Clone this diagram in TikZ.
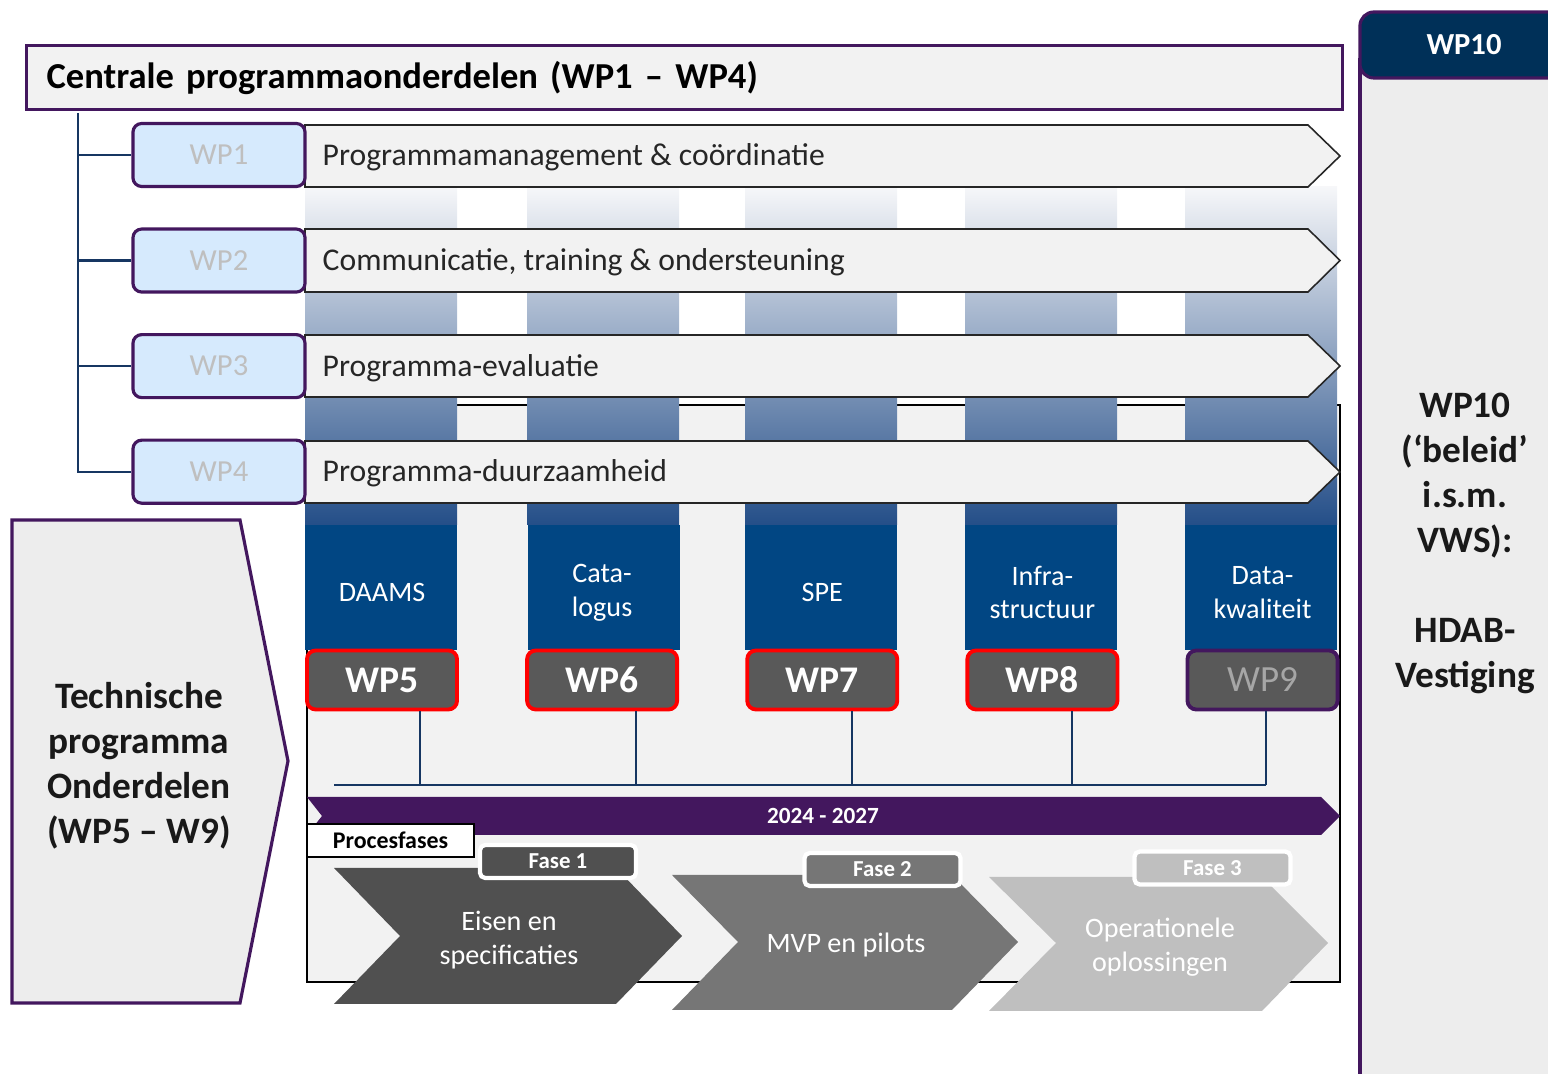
\documentclass[tikz,border=0pt]{standalone}
\usepackage{fontspec}
\setmainfont{Carlito}
\usepackage{tikz}
\usetikzlibrary{shapes.geometric, arrows}
\definecolor{purp}{RGB}{67,23,94}
\definecolor{navy}{RGB}{0,48,88}
\definecolor{linkblue}{RGB}{22,54,98}
\definecolor{colblue}{RGB}{1,70,131}
\definecolor{coltop}{RGB}{246,247,249}
\definecolor{colmid}{RGB}{172,178,200}
\definecolor{colbot}{RGB}{36,78,136}
\definecolor{paleblue}{RGB}{214,234,253}
\definecolor{lightbg}{RGB}{242,242,242}
\definecolor{panel}{RGB}{237,237,237}
\definecolor{boxgray}{RGB}{89,89,89}
\definecolor{ph1}{RGB}{80,80,80}
\definecolor{ph2}{RGB}{118,118,118}
\definecolor{ph3}{RGB}{191,191,191}
\definecolor{txtgray}{RGB}{191,191,191}
\definecolor{wp9gray}{RGB}{166,166,166}
\definecolor{darktxt}{RGB}{38,38,38}
\tikzstyle{banner} = [rectangle, draw=purp, line width=0.9pt, fill=lightbg, inner xsep=0.2cm, text width=12.75cm, minimum height=0.64cm, align=left, font=\bfseries\fontsize{10.4}{12}\selectfont]
\tikzstyle{wpsmall} = [rectangle, rounded corners=2.5pt, draw=purp, line width=0.9pt, fill=paleblue, text=txtgray, minimum width=1.72cm, minimum height=0.63cm, inner sep=0pt, font=\fontsize{8.7}{10}\selectfont]
\tikzstyle{bar} = [draw=darktxt, line width=0.45pt, fill=lightbg]
\tikzstyle{bartext} = [anchor=west, inner sep=0pt, text=darktxt, font=\fontsize{9}{10}\selectfont]
\tikzstyle{coltext} = [text=white, align=center, font=\fontsize{8}{9.6}\selectfont]
\tikzstyle{wpbig} = [rectangle, rounded corners=2.5pt, draw=red, line width=1.1pt, fill=boxgray, text=white, minimum width=1.5cm, minimum height=0.59cm, inner sep=0pt, font=\bfseries\fontsize{10.7}{12}\selectfont]
\tikzstyle{link} = [draw=linkblue, line width=0.6pt]
\tikzstyle{phasetext} = [text=white, align=center, font=\fontsize{8}{9.6}\selectfont]
\tikzstyle{faselabel} = [rectangle, rounded corners=1.5pt, draw=white, line width=1.2pt, text=white, minimum width=1.56cm, minimum height=0.33cm, inner sep=0pt, font=\bfseries\fontsize{6.5}{7.5}\selectfont]
\tikzstyle{sidepanel} = [draw=purp, line width=0.9pt, fill=panel]
\tikzstyle{sidetext} = [align=center, text=black!90, font=\bfseries\fontsize{10.6}{12.8}\selectfont]
\begin{document}
\begin{tikzpicture}[x=0.01cm, y=-0.01cm, node distance=2.2cm]
	\useasboundingbox (0,0) rectangle (1548,1074);
	\clip (0,0) rectangle (1548,1074);

		% Draw the background and the columns
		\draw[fill=lightbg, draw=black, line width=0.6pt] (307,405) rectangle (1340,982);
		\shade[top color=coltop, middle color=colmid, bottom color=colbot] (305,187) rectangle (457,525);
		\shade[top color=coltop, middle color=colmid, bottom color=colbot] (527,187) rectangle (679,525);
		\shade[top color=coltop, middle color=colmid, bottom color=colbot] (745,187) rectangle (897,525);
		\shade[top color=coltop, middle color=colmid, bottom color=colbot] (965,187) rectangle (1117,525);
		\shade[top color=coltop, middle color=colmid, bottom color=colbot] (1185,187) rectangle (1337,525);
		\fill[colblue] (305,525) rectangle (457,650);
		\fill[colblue] (528,525) rectangle (680,650);
		\fill[colblue] (745,525) rectangle (897,650);
		\fill[colblue] (965,525) rectangle (1117,650);
		\fill[colblue] (1185,525) rectangle (1337,650);

		% Draw the arrows WP1 - WP4
		\draw[bar] (305,125) -- (1308,125) -- (1340,156) -- (1308,187) -- (305,187) -- cycle;
		\draw[bar] (305,229) -- (1308,229) -- (1340,260.5) -- (1308,292) -- (305,292) -- cycle;
		\draw[bar] (305,335) -- (1308,335) -- (1340,366) -- (1308,397) -- (305,397) -- cycle;
		\draw[bar] (305,441) -- (1308,441) -- (1340,472) -- (1308,503) -- (305,503) -- cycle;
		\node (pm) [bartext] at (322,157) {Programmamanagement \& coördinatie};
		\node (comm) [bartext] at (322,262) {Communicatie, training \& ondersteuning};
		\node (eval) [bartext] at (322,368) {Programma-evaluatie};
		\node (duur) [bartext] at (322,473) {Programma-duurzaamheid};

		% Draw the nodes
		\node (title) [banner, anchor=north west] at (25,44) {Centrale programmaonderdelen (WP1 – WP4)};
		\node (wp1) [wpsmall] at (219,155) {WP1};
		\node (wp2) [wpsmall, below of=wp1, yshift=1.145cm] {WP2};
		\node (wp3) [wpsmall, below of=wp2, yshift=1.145cm] {WP3};
		\node (wp4) [wpsmall, below of=wp3, yshift=1.145cm] {WP4};
		\node (wp5) [wpbig] at (382,680) {WP5};
		\node (wp6) [wpbig, right of=wp5] {WP6};
		\node (wp7) [wpbig, right of=wp6] {WP7};
		\node (wp8) [wpbig, right of=wp7] {WP8};
		\node (wp9) [wpbig, right of=wp8, draw=purp, text=wp9gray, font=\fontsize{10.5}{12}\selectfont] {WP9};
		\node (daams) [coltext, above of=wp5, yshift=-1.325cm] {DAAMS};
		\node (catalogus) [coltext, above of=wp6, yshift=-1.325cm] {Cata-\\logus};
		\node (spe) [coltext, above of=wp7, yshift=-1.325cm] {SPE};
		\node (infra) [coltext, above of=wp8, yshift=-1.325cm] {Infra-\\structuur};
		\node (dataq) [coltext, above of=wp9, yshift=-1.325cm] {Data-\\kwaliteit};

		% Draw the lines
		\coordinate (trunk) at (78,113);
		\draw[link] (trunk) |- (wp4.west);
		\draw[link] (trunk |- wp1.west) -- (wp1.west);
		\draw[link] (trunk |- wp2.west) -- (wp2.west);
		\draw[link] (trunk |- wp3.west) -- (wp3.west);
		\coordinate (busL) at (334,785);
		\coordinate (b5) at (420,785);
		\coordinate (b6) at (636,785);
		\coordinate (b7) at (852,785);
		\coordinate (b8) at (1072,785);
		\coordinate (b9) at (1266,785);
		\draw[link] (busL) -- (b9);
		\draw[link] (b5 |- wp5.south) -- (b5);
		\draw[link] (b6 |- wp6.south) -- (b6);
		\draw[link] (b7 |- wp7.south) -- (b7);
		\draw[link] (b8 |- wp8.south) -- (b8);
		\draw[link] (b9 |- wp9.south) -- (b9);

		% Timeline and phases
		\fill[purp] (307,797) -- (1321,797) -- (1340,816) -- (1321,835) -- (307,835) -- (322,816) -- cycle;
		\node (years) [text=white, font=\bfseries\fontsize{6.6}{8}\selectfont] at (823,816) {2024 - 2027};
		\node (procesfases) [draw=black, fill=white, line width=0.6pt, minimum width=1.67cm, minimum height=0.33cm, inner sep=0pt, font=\bfseries\fontsize{6.8}{8}\selectfont] at (390.5,840.5) {Procesfases};
		\fill[ph1] (334,868) -- (616,868) -- (682,936) -- (616,1004) -- (334,1004) -- (400,936) -- cycle;
		\fill[ph2] (672,875) -- (952,875) -- (1018,942) -- (952,1010) -- (672,1010) -- (738,942) -- cycle;
		\fill[ph3] (989,877) -- (1262,877) -- (1328,943) -- (1262,1011) -- (989,1011) -- (1056,943) -- cycle;
		\node (eisen) [phasetext] at (509,940) {Eisen en\\specificaties};
		\node (mvp) [phasetext] at (846,945) {MVP en pilots};
		\node (oplos) [phasetext] at (1160,947) {Operationele\\oplossingen};
		\node (fase1) [faselabel, fill=ph1] at (558,861.5) {Fase 1};
		\node (fase2) [faselabel, fill=ph2] at (882.5,869.5) {Fase 2};
		\node (fase3) [faselabel, fill=ph3] at (1212.5,868) {Fase 3};

		% Side panels
		\draw[sidepanel] (12,520) -- (240,520) -- (288,761) -- (240,1003) -- (12,1003) -- cycle;
		\node (technisch) [sidetext] at (139,766) {Technische\\programma\\Onderdelen\\(WP5 – W9)};
		\draw[sidepanel] (1360,60) rectangle (1580,1100);
		\node (wp10head) [rectangle, rounded corners=4pt, draw=purp, line width=0.9pt, fill=navy, text=white, minimum width=2.08cm, minimum height=0.66cm, font=\bfseries\fontsize{8.7}{10}\selectfont] at (1464,45) {WP10};
		\node (wp10text) [sidetext] at (1465,543) {WP10\\(‘beleid’\\i.s.m.\\VWS):\\[12.8pt]HDAB-\\Vestiging};

\end{tikzpicture}
\end{document}
